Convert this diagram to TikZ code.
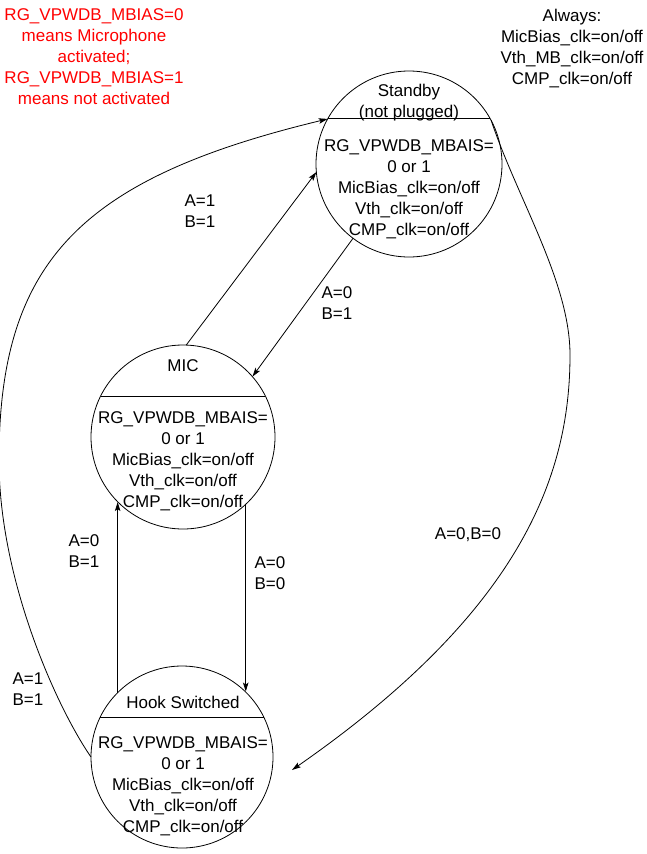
\documentclass[tikz,border=0pt]{standalone}
\usepackage{fontspec}
\setmainfont{Liberation Sans}
\usetikzlibrary{arrows.meta,calc}
\begin{document}
\begin{tikzpicture}[x=1pt,y=-1pt,
  every node/.style={inner sep=0pt, outer sep=0pt},
  txt/.style={font=\fontsize{17}{21}\selectfont, align=center, anchor=north},
  redtxt/.style={txt, text={rgb,255:red,255;green,0;blue,0}},
  stcirc/.style={draw, circle, line width=0.8pt, minimum size=#1},
  chord/.style={line width=0.8pt},
  conn/.style={line width=0.8pt, -{Stealth[length=9pt,width=5.5pt,inset=2pt]}},
  ]
\useasboundingbox (0,0) rectangle (647,854);

% notes
\node[redtxt] (note) at (94,5.3) {\strut RG\_VPWDB\_MBIAS=0\\means Microphone\\activated;\\RG\_VPWDB\_MBIAS=1\\means not activated};
\node[txt] (always) at (572,6.3) {\strut Always:\\MicBias\_clk=on/off\\Vth\_MB\_clk=on/off\\CMP\_clk=on/off};

% states
\node[stcirc=186] (sb) at (409,164) {};
\node[stcirc=184] (mic) at (183,437) {};
\node[stcirc=182] (hk) at (182,757) {};

\draw[chord] ($(sb.center)+(-80.8,-46)$) -- ($(sb.center)+(80.8,-46)$);
\draw[chord] ($(mic.center)+(-82.4,-41)$) -- ($(mic.center)+(82.4,-41)$);
\draw[chord] ($(hk.center)+(-81.7,-40)$) -- ($(hk.center)+(81.7,-40)$);

\node[txt] (sbh) at (409,81.3) {\strut Standby\\(not plugged)};
\node[txt] (sbb) at (409,136.3) {\strut RG\_VPWDB\_MBAIS=\\0 or 1\\MicBias\_clk=on/off\\Vth\_clk=on/off\\CMP\_clk=on/off};
\node[txt] (mich) at (183,356.3) {\strut MIC};
\node[txt] (micb) at (183,408.3) {\strut RG\_VPWDB\_MBAIS=\\0 or 1\\MicBias\_clk=on/off\\Vth\_clk=on/off\\CMP\_clk=on/off};
\node[txt] (hkh) at (183,693.3) {\strut Hook Switched};
\node[txt] (hkb) at (183,733.3) {\strut RG\_VPWDB\_MBAIS=\\0 or 1\\MicBias\_clk=on/off\\Vth\_clk=on/off\\CMP\_clk=on/off};

% connectors
\draw[conn] (mic.88) -- (sb.185);
\draw[conn] (sb.233) -- (mic.41);
\draw[conn] (mic.-47) -- (mic.-47 |- hk.46);
\draw[conn] (hk.135) -- (hk.135 |- mic.225);
\draw[conn] (hk.180) .. controls (57,708) and (-1,580) .. (-1,460)
  .. controls (-1,260) and (82.5,178) .. (sb.151);
\coordinate (rtip) at (292,770);
\draw[conn] (sb.28) .. controls (518,200) and (570,282) .. (570,355)
  .. controls (570,475) and (521.6,610.4) .. (rtip);

% labels
\node[txt] (l1) at (200,191.3) {\strut A=1\\B=1};
\node[txt] (l2) at (337,283.3) {\strut A=0\\B=1};
\node[txt] (l3) at (84,531.3) {\strut A=0\\B=1};
\node[txt] (l4) at (270,553.3) {\strut A=0\\B=0};
\node[txt] (l5) at (28,669.3) {\strut A=1\\B=1};
\node[txt] (l6) at (468,524.3) {\strut A=0,B=0};
\end{tikzpicture}
\end{document}
